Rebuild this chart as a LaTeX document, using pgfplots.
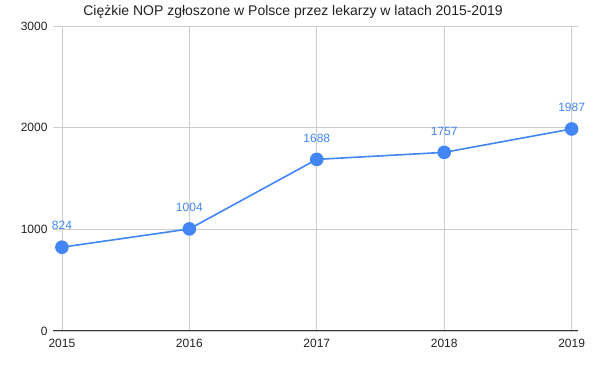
\documentclass[border=0pt]{standalone}
\usepackage{fontspec}
\setmainfont{Liberation Sans}
\usepackage{pgfplots}
\pgfplotsset{compat=1.18}
\definecolor{lineblue}{HTML}{4285F4}
\definecolor{gridgray}{HTML}{CCCCCC}
\definecolor{txt}{HTML}{222222}
\begin{document}
\begin{tikzpicture}
\begin{axis}[
  name=ax,
  scale only axis,
  width=525pt, height=305pt,
  xmin=2014.93, xmax=2019.05,
  ymin=0, ymax=3000,
  xtick={2015,2016,2017,2018,2019},
  ytick={0,1000,2000,3000},
  xticklabel style={/pgf/number format/1000 sep={}},
  yticklabel style={/pgf/number format/1000 sep={}},
  /pgf/number format/assume math mode=true,
  tick label style={font=\fontsize{12}{14}\selectfont, text=txt},
  xmajorgrids, ymajorgrids,
  grid style={gridgray, line width=0.8pt},
  axis line style={draw=none},
  major tick length=0pt,
  xticklabel shift=5pt,
  yticklabel shift=2pt,
  clip=false,
  nodes near coords,
  every node near coord/.append style={font=\fontsize{12}{14}\selectfont, text=lineblue, yshift=13pt},
  point meta=explicit symbolic,
]
\draw[color=txt!90, line width=1pt] (axis cs:2014.93,0) -- (axis cs:2019.05,0);
\addplot[color=lineblue, line width=1.6pt, mark=*, mark size=6pt, mark options={fill=lineblue, draw=lineblue}]
  table[meta=lab] {
x y lab
2015 824 824
2016 1004 1004
2017 1688 1688
2018 1757 1757
2019 1987 1987
};
\end{axis}
\node[text=txt, font=\fontsize{14}{16}\selectfont] at ([xshift=240pt, yshift=319pt]ax.south west) {Ciężkie NOP zgłoszone w Polsce przez lekarzy w latach 2015-2019};
\pgfresetboundingbox
\path[use as bounding box] ([xshift=-53pt, yshift=-40pt]ax.south west) rectangle ([xshift=547pt, yshift=331pt]ax.south west);
\end{tikzpicture}
\end{document}
